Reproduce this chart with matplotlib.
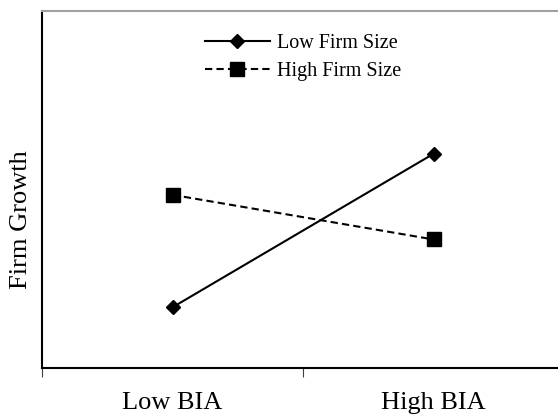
import matplotlib
matplotlib.use("Agg")
import matplotlib.pyplot as plt

# data (arbitrary units, axis has no scale)
categories = ["Low BIA", "High BIA"]
low_firm_size = [0.17, 0.60]
high_firm_size = [0.485, 0.36]

plt.rcParams['font.family'] = ['Liberation Serif', 'DejaVu Serif']

fig = plt.figure(figsize=(5.58, 4.15), dpi=100)
ax = fig.add_axes([0.0753, 0.1133, 0.9355, 0.8602])

x = list(range(len(categories)))
ax.plot(x, low_firm_size, color="black", linestyle="-", linewidth=1.5,
        marker="D", markersize=7.5, label="Low Firm Size")
ax.plot(x, high_firm_size, color="black", linestyle=(0, (3.5, 2)), linewidth=1.5,
        marker="s", markersize=9.5, label="High Firm Size")

ax.set_xlim(-0.5, len(categories) - 0.5)
ax.set_ylim(0, 1)

# ticks between categories, labels at centres
ax.set_xticks([i - 0.5 for i in range(len(categories) + 1)])
ax.set_xticklabels([])
ax.set_xticks(x, minor=True)
ax.set_xticklabels(categories, minor=True, fontsize=19)
ax.tick_params(axis="x", which="major", length=6.5, width=0.8, color="#404040")
ax.tick_params(axis="x", which="minor", length=0, pad=17)
ax.set_yticks([])

ax.set_ylabel("Firm Growth", fontsize=19)
ax.yaxis.set_label_coords(-0.019, 0.415)

for side in ["left", "bottom"]:
    ax.spines[side].set_color("black")
    ax.spines[side].set_linewidth(1.5)
ax.spines["top"].set_color("#a0a0a0")
ax.spines["top"].set_linewidth(1.5)
ax.spines["right"].set_visible(False)

ax.legend(loc="upper left", bbox_to_anchor=(0.297, 0.958), frameon=False,
          fontsize=14.5, handlelength=3.2, handletextpad=0.35,
          labelspacing=0.45, borderaxespad=0)

fig.savefig("out.png", dpi=100)
